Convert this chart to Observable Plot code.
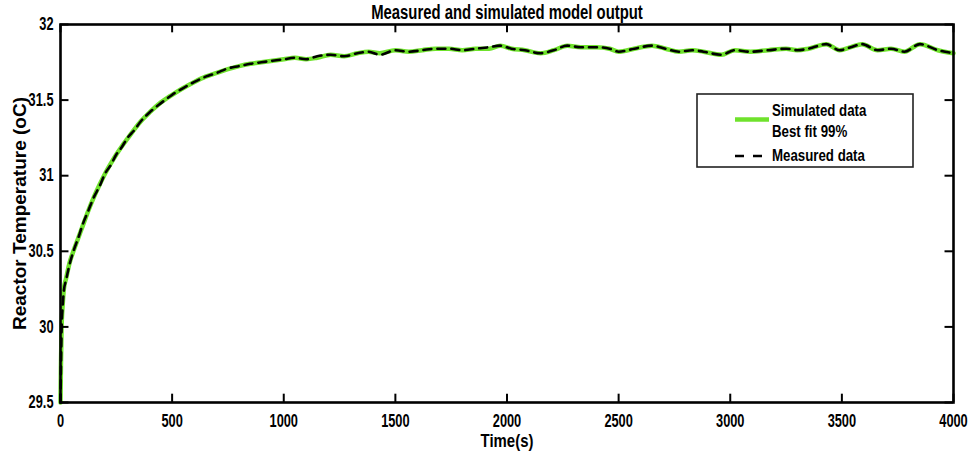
<!DOCTYPE html>
<html>
<head>
<meta charset="utf-8">
<script src="https://cdn.jsdelivr.net/npm/d3@7"></script>
<script src="https://cdn.jsdelivr.net/npm/@observablehq/plot@0.6"></script>
<style>
  html, body { margin: 0; padding: 0; background: #fff; }
  #chart { position: relative; width: 971px; height: 460px; }
</style>
</head>
<body>
<div id="chart"></div>
<script>
const titleText = "Measured and simulated model output";
const xLabel = "Time(s)";
const yLabel = "Reactor Temperature (oC)";
const seriesNames = ["Simulated data", "Best fit 99%", "Measured data"];
const xTicks = [0, 500, 1000, 1500, 2000, 2500, 3000, 3500, 4000];
const yTicks = [29.5, 30, 30.5, 31, 31.5, 32];

const time = [0,2,5,10,15,25,40,60,80,100,125,150,175,200,225,250,275,300,330,360,400,450,500,550,600,650,700,750,800,850,900,950,1000,1050,1100,1150,1210,1270,1330,1380,1430,1500,1560,1620,1680,1740,1800,1860,1920,1970,2020,2080,2150,2210,2270,2330,2400,2460,2500,2570,2650,2710,2770,2830,2880,2960,3020,3090,3170,3250,3300,3350,3430,3490,3540,3590,3660,3720,3780,3850,3930,4000];
const simulated = [29.50,29.75,30.00,30.15,30.25,30.32,30.42,30.51,30.59,30.67,30.77,30.86,30.94,31.015,31.08,31.14,31.195,31.245,31.305,31.36,31.42,31.485,31.535,31.58,31.62,31.655,31.68,31.705,31.725,31.74,31.75,31.76,31.77,31.78,31.77,31.78,31.80,31.79,31.81,31.82,31.81,31.83,31.82,31.83,31.84,31.84,31.83,31.84,31.84,31.86,31.84,31.83,31.81,31.83,31.86,31.85,31.85,31.84,31.82,31.84,31.86,31.84,31.82,31.83,31.82,31.80,31.83,31.82,31.83,31.84,31.83,31.84,31.87,31.83,31.85,31.87,31.83,31.84,31.82,31.87,31.83,31.81];
const measured = [29.50,29.72,29.98,30.14,30.24,30.31,30.41,30.51,30.59,30.68,30.77,30.86,30.93,31.015,31.07,31.14,31.19,31.25,31.30,31.36,31.42,31.48,31.535,31.58,31.62,31.655,31.68,31.71,31.725,31.74,31.75,31.76,31.77,31.78,31.77,31.79,31.80,31.79,31.81,31.82,31.80,31.83,31.82,31.83,31.84,31.84,31.83,31.84,31.85,31.86,31.84,31.83,31.81,31.83,31.86,31.85,31.85,31.84,31.82,31.84,31.86,31.84,31.82,31.83,31.82,31.80,31.83,31.82,31.83,31.84,31.83,31.84,31.87,31.83,31.85,31.87,31.83,31.84,31.82,31.87,31.83,31.81];

const simData = time.map((t, i) => ({t, v: simulated[i]}));
const measData = time.map((t, i) => ({t, v: measured[i]}));

const green = "#6fe22c";
const font = '"Liberation Sans", Arial, sans-serif';

const plot = Plot.plot({
  width: 971,
  height: 460,
  marginLeft: 60,
  marginRight: 18,
  marginTop: 24,
  marginBottom: 58,
  style: {fontFamily: font, fontWeight: "bold", color: "black", background: "white", overflow: "visible"},
  x: {domain: [0, 4000]},
  y: {domain: [29.5, 32]},
  marks: [
    Plot.line(simData, {x: "t", y: "v", stroke: green, strokeWidth: 4.5, curve: "monotone-x"}),
    Plot.line(measData, {x: "t", y: "v", stroke: "black", strokeWidth: 2.6, strokeDasharray: "8,6", curve: "monotone-x"}),
    // inward ticks on all four sides
    Plot.ruleX(xTicks, {x: d => d, y1: 29.5, y2: 29.5 + 0.055, stroke: "black", strokeWidth: 2}),
    Plot.ruleX(xTicks, {x: d => d, y1: 32, y2: 32 - 0.055, stroke: "black", strokeWidth: 2}),
    Plot.ruleY(yTicks, {y: d => d, x1: 0, x2: 38, stroke: "black", strokeWidth: 2}),
    Plot.ruleY(yTicks, {y: d => d, x1: 4000, x2: 4000 - 38, stroke: "black", strokeWidth: 2}),
    Plot.frame({stroke: "black", strokeWidth: 2.6}),
    Plot.axisX({ticks: xTicks, tickSize: 0, tickPadding: 12, label: null, fontSize: 16, className: "xticklab", tickFormat: d => String(d)}),
    Plot.axisY({ticks: yTicks, tickSize: 0, tickPadding: 7, label: null, fontSize: 16, className: "yticklab", tickFormat: d => String(d)}),
    Plot.text([titleText], {frameAnchor: "top", dy: -12, lineAnchor: "middle", textAnchor: "middle", fontSize: 18, fontWeight: "bold", fill: "black", className: "titlelab"}),
    Plot.text([xLabel], {frameAnchor: "bottom", dy: 38, lineAnchor: "middle", textAnchor: "middle", fontSize: 18, fontWeight: "bold", fill: "black", className: "xlab"}),
    Plot.text([yLabel], {frameAnchor: "left", dx: -41, rotate: -90, lineAnchor: "middle", textAnchor: "middle", fontSize: 19, fontWeight: "bold", fill: "black"})
  ]
});

document.getElementById("chart").appendChild(plot);

// condensed, slightly tall lettering: scale each label around its own anchor
function squeeze(selector, sx, sy) {
  d3.select(plot).selectAll(selector).each(function () {
    const t = this.getAttribute("transform");
    if (t) {
      this.setAttribute("transform", t + ` scale(${sx},${sy})`);
    } else {
      const x = +(this.getAttribute("x") || 0), y = +(this.getAttribute("y") || 0);
      this.removeAttribute("x"); this.removeAttribute("y");
      this.setAttribute("transform", `translate(${x},${y}) scale(${sx},${sy})`);
    }
  });
}
squeeze(".xticklab text", 0.8, 1.1);
squeeze(".yticklab text", 0.8, 1.1);
squeeze(".titlelab text", 0.826, 1.08);
squeeze(".xlab text", 0.83, 1.05);

// Legend box (drawn onto the same SVG)
const svg = d3.select(plot);
const lg = svg.append("g").attr("class", "legend").attr("text-anchor", "start");
lg.append("rect").attr("x", 697).attr("y", 94).attr("width", 216).attr("height", 73)
  .attr("fill", "white").attr("stroke", "#222").attr("stroke-width", 1.6);
lg.append("line").attr("x1", 735).attr("x2", 769).attr("y1", 119.5).attr("y2", 119.5)
  .attr("stroke", green).attr("stroke-width", 4.5);
lg.append("line").attr("x1", 735).attr("x2", 771).attr("y1", 156).attr("y2", 156)
  .attr("stroke", "black").attr("stroke-width", 2.6).attr("stroke-dasharray", "9,9");
const ltexts = [[seriesNames[0], 110], [seriesNames[1], 131], [seriesNames[2], 155]];
ltexts.forEach(([s, y]) => {
  lg.append("text").attr("transform", `translate(772,${y}) scale(0.83,1.03)`).attr("dy", "0.35em")
    .attr("font-family", font).attr("font-weight", "bold").attr("font-size", 16)
    .attr("fill", "black").text(s);
});
</script>
</body>
</html>
